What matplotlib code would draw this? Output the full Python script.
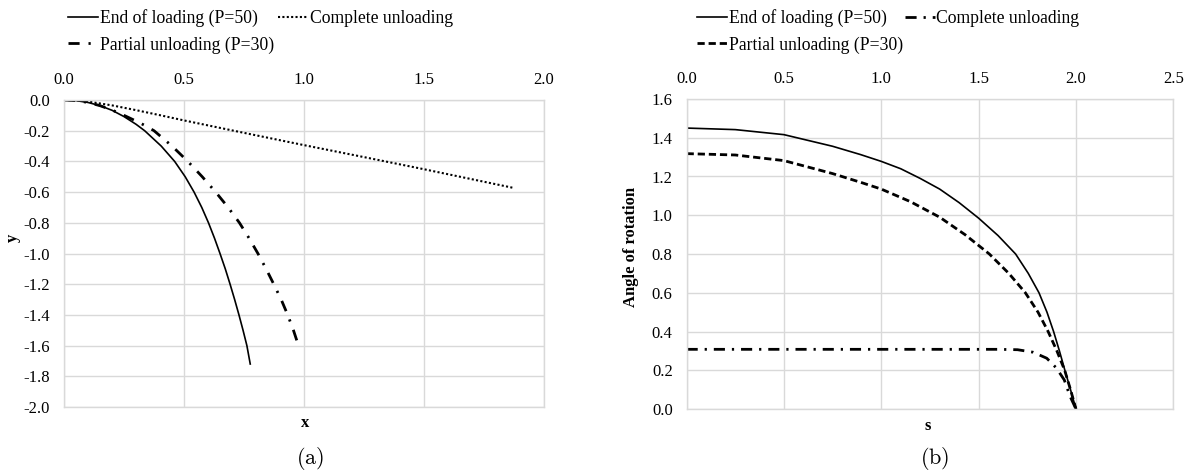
import numpy as np
import matplotlib
matplotlib.use('Agg')
import matplotlib.pyplot as plt
from matplotlib.ticker import FuncFormatter

plt.rcParams['font.family'] = ['Liberation Serif', 'DejaVu Serif']
plt.rcParams['axes.unicode_minus'] = False
plt.rcParams['mathtext.fontset'] = 'cm'

# (a) deflection curves
x_end = [0, 0.05, 0.1, 0.15, 0.2, 0.25, 0.3, 0.336, 0.405, 0.461, 0.505, 0.542, 0.574, 0.602,
         0.627, 0.65, 0.672, 0.692, 0.711, 0.729, 0.746, 0.762, 0.776]
y_end = [0, -0.004, -0.016, -0.037, -0.067, -0.108, -0.158, -0.2, -0.3, -0.4, -0.5, -0.6, -0.7, -0.8,
         -0.9, -1.0, -1.1, -1.2, -1.3, -1.4, -1.5, -1.6, -1.72]

x_part = [0, 0.05, 0.1, 0.15, 0.2, 0.25, 0.3, 0.336, 0.375, 0.45, 0.516, 0.576, 0.632, 0.684, 0.731,
          0.771, 0.808, 0.842, 0.874, 0.905, 0.932, 0.956, 0.977]
y_part = [0, -0.004, -0.016, -0.037, -0.065, -0.1, -0.137, -0.165, -0.2, -0.3, -0.4, -0.5, -0.6, -0.7, -0.8,
          -0.9, -1.0, -1.1, -1.2, -1.3, -1.4, -1.5, -1.6]

x_comp = [0, 0.05, 0.1, 0.2, 0.3, 0.4, 0.5, 0.75, 1.0, 1.25, 1.5, 1.874]
y_comp = [0, -0.002, -0.01, -0.035, -0.066, -0.099, -0.133, -0.214, -0.294, -0.372, -0.451, -0.573]

# (b) angle of rotation
s_end = [0, 0.25, 0.5, 0.75, 0.894, 1.0, 1.1, 1.2, 1.3, 1.4, 1.5, 1.6, 1.69, 1.755, 1.81, 1.851,
         1.885, 1.915, 1.943, 1.972, 2.0]
a_end = [1.45, 1.442, 1.416, 1.356, 1.313, 1.278, 1.24, 1.19, 1.135, 1.065, 0.985, 0.895, 0.8, 0.7, 0.6, 0.5,
         0.4, 0.3, 0.2, 0.1, 0.0]

s_part = [0, 0.25, 0.5, 0.75, 0.894, 1.0, 1.15, 1.3, 1.43, 1.555, 1.655, 1.74, 1.805, 1.857, 1.902,
          1.942, 1.972, 2.0]
a_part = [1.318, 1.311, 1.282, 1.215, 1.17, 1.135, 1.07, 0.99, 0.9, 0.8, 0.7, 0.6, 0.5, 0.4, 0.3,
          0.2, 0.1, 0.0]

s_comp = [0, 1.0, 1.6, 1.70, 1.78, 1.85, 1.90, 1.94, 1.97, 2.0]
a_comp = [0.308, 0.308, 0.308, 0.306, 0.293, 0.262, 0.211, 0.15, 0.065, 0.0]

fig = plt.figure(figsize=(11.92, 4.73), dpi=100)
ax1 = fig.add_axes([64 / 1192, 1 - 407 / 473, 480 / 1192, 307 / 473])
ax2 = fig.add_axes([686.6 / 1192, 1 - 409 / 473, 486.7 / 1192, 310 / 473])

fmt = FuncFormatter(lambda v, p: f'{round(v, 1) + 0.0:.1f}')
grid_c = '#d9d9d9'
for ax in (ax1, ax2):
    ax.xaxis.tick_top()
    ax.xaxis.set_label_position('bottom')
    ax.tick_params(length=0, labelsize=12)
    ax.tick_params(axis='x', pad=9)
    ax.tick_params(axis='y', pad=10)
    ax.grid(True, color=grid_c, linewidth=1.0)
    ax.set_axisbelow(True)
    ax.xaxis.set_major_formatter(fmt)
    ax.yaxis.set_major_formatter(fmt)
    for sp in ax.spines.values():
        sp.set_color(grid_c)
        sp.set_linewidth(1.0)

leg_kw = dict(ncol=2, frameon=False, fontsize=12.7, handlelength=1.7, handletextpad=0.1,
              labelspacing=0.5, borderpad=0, borderaxespad=0, loc='upper left')

ax1.plot(x_end, y_end, color='black', lw=1.2, label='End of loading (P=50)')
ax1.plot(x_part, y_part, color='black', lw=2.0, dashes=(4, 3.2, 0.8, 3.2),
         label='Partial unloading (P=30)')
ax1.plot(x_comp, y_comp, color='black', lw=1.5, dashes=(1, 1.1),
         label='Complete unloading')
ax1.set_xlim(0, 2.0)
ax1.set_ylim(-2.0, 0)
ax1.set_xticks(np.arange(0, 2.01, 0.5))
ax1.set_yticks(np.arange(-2.0, 0.01, 0.2))
ax1.set_xlabel('x', fontsize=12, fontweight='bold')
ax1.set_ylabel('y', fontsize=12, fontweight='bold')
ax1.xaxis.set_label_coords(0.502, -0.025)
ax1.yaxis.set_label_coords(-0.09, 0.55)
ax1.legend(bbox_to_anchor=(68 / 1192, 0.98), bbox_transform=fig.transFigure,
           columnspacing=0.25, **leg_kw)

ax2.plot(s_end, a_end, color='black', lw=1.2, label='End of loading (P=50)')
ax2.plot(s_part, a_part, color='black', lw=2.0, dashes=(2.6, 1.4),
         label='Partial unloading (P=30)')
ax2.plot(s_comp, a_comp, color='black', lw=2.0, dashes=(4, 2.5, 0.8, 2.5),
         label='Complete unloading')
ax2.set_xlim(0, 2.5)
ax2.set_ylim(0, 1.6)
ax2.set_xticks(np.arange(0, 2.51, 0.5))
ax2.set_yticks(np.arange(0, 1.61, 0.2))
ax2.set_xlabel('s', fontsize=12, fontweight='bold')
ax2.set_ylabel('Angle of rotation', fontsize=12, fontweight='bold')
ax2.xaxis.set_label_coords(0.496, -0.028)
ax2.yaxis.set_label_coords(-0.097, 0.524)
ax2.legend(bbox_to_anchor=(697 / 1192, 0.98), bbox_transform=fig.transFigure,
           columnspacing=0.1, **leg_kw)

fig.text(310 / 1192, 1 - 458 / 473, r'$\mathrm{(a)}$', ha='center', va='center', fontsize=16)
fig.text(935 / 1192, 1 - 458 / 473, r'$\mathrm{(b)}$', ha='center', va='center', fontsize=16)

fig.savefig('out.png', dpi=100)
